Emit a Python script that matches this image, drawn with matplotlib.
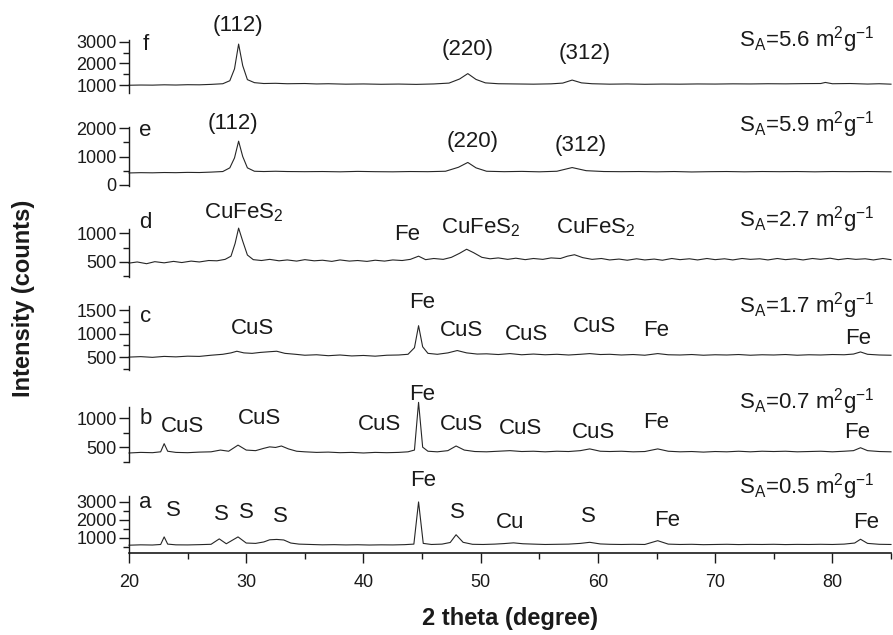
import matplotlib
matplotlib.use("Agg")
import matplotlib.pyplot as plt
import matplotlib.transforms as mtransforms
from matplotlib.ticker import FixedLocator

plt.rcParams['font.family'] = ['Liberation Sans', 'DejaVu Sans']
plt.rcParams['mathtext.fontset'] = 'custom'
plt.rcParams['mathtext.rm'] = 'Liberation Sans'
plt.rcParams['mathtext.it'] = 'Liberation Sans'

# ---------------- data ----------------
tt_f = [20, 21, 22, 23, 24, 25, 26, 27, 28, 28.6, 29.0, 29.35, 29.7, 30.1, 30.7, 31.5, 32.5, 33.5, 35, 36, 37, 38.5,
        40, 41.5, 43, 44.5, 46, 47.3, 48.2, 48.9, 49.6, 50.4, 51.5, 53, 54.5, 56, 57.0, 57.8, 58.6, 59.5, 61, 62.5,
        64, 65.5, 67, 68.5, 70, 71.5, 73, 74.5, 76, 77.5, 79.0, 79.4, 80, 81.5, 83, 84, 85]
I_f = [990, 1000, 995, 1010, 1000, 1015, 1010, 1030, 1060, 1200, 1750, 2900, 1900, 1250, 1110, 1070, 1080, 1060, 1070, 1050, 1060, 1040,
       1050, 1035, 1045, 1030, 1050, 1090, 1280, 1530, 1260, 1100, 1060, 1050, 1040, 1055, 1090, 1230, 1100, 1060, 1040, 1050,
       1035, 1045, 1040, 1050, 1045, 1055, 1050, 1060, 1055, 1065, 1070, 1120, 1060, 1070, 1045, 1060, 1040]

tt_e = [20, 21, 22, 23, 24, 25, 26, 27, 28, 28.6, 29.0, 29.35, 29.7, 30.1, 30.7, 31.5, 32.5, 33.5, 35, 36.5, 38, 39.5,
        41, 42.5, 44, 45.5, 47.0, 48.1, 48.9, 49.6, 50.5, 52, 53.5, 55, 56.5, 57.8, 59.0, 60.5, 62, 63.5, 65, 66.5,
        68, 69.5, 71, 72.5, 74, 75.5, 77, 78.5, 80, 81.5, 83, 85]
I_e = [420, 430, 425, 435, 430, 440, 435, 450, 470, 600, 950, 1540, 1000, 600, 480, 470, 480, 470, 465, 470, 460, 475,
       465, 460, 470, 465, 480, 620, 790, 600, 480, 465, 475, 460, 480, 610, 500, 470, 465, 470, 460, 470,
       455, 465, 470, 460, 470, 465, 470, 460, 470, 465, 470, 460]

tt_d = [20, 20.7, 21.5, 22.2, 23, 23.8, 24.5, 25.3, 26, 26.8, 27.5, 28.2, 28.7, 29.05, 29.35, 29.7, 30.1, 30.6, 31.3, 32, 32.8,
        33.5, 34.3, 35, 35.8, 36.5, 37.3, 38, 38.8, 39.5, 40.3, 41, 41.8, 42.5, 43.3, 44.0, 44.7, 45.3, 46, 46.8, 47.5,
        48.2, 48.8, 49.4, 50.1, 50.8, 51.5, 52.3, 53, 53.8, 54.5, 55.3, 56, 56.8, 57.4, 58.0, 58.7, 59.5, 60.3, 61,
        61.8, 62.5, 63.3, 64, 64.8, 65.5, 66.3, 67, 67.8, 68.5, 69.3, 70, 70.8, 71.5, 72.3, 73, 73.8, 74.5, 75.3,
        76, 76.8, 77.5, 78.3, 79, 79.8, 80.5, 81.3, 82, 82.8, 83.5, 84.3, 85]
I_d = [480, 500, 470, 505, 485, 510, 490, 515, 500, 525, 520, 545, 600, 820, 1085, 860, 620, 540, 525, 545, 520,
       535, 515, 540, 520, 530, 510, 535, 515, 525, 510, 530, 515, 535, 525, 545, 600, 540, 560, 545, 580,
       650, 720, 660, 580, 555, 570, 545, 565, 540, 560, 545, 570, 560, 600, 625, 575, 545, 560, 535,
       550, 530, 555, 535, 550, 530, 560, 540, 555, 535, 560, 540, 555, 535, 560, 545, 555, 535, 560,
       540, 555, 535, 560, 545, 565, 540, 560, 545, 555, 535, 560, 540]

tt_c = [20, 21, 22, 23, 24, 25, 26, 27, 28, 28.7, 29.2, 29.8, 30.5, 31.2, 32.0, 32.6, 33.3, 34.2, 35, 36, 37, 38,
        39, 40, 41, 42, 43, 43.8, 44.35, 44.7, 45.05, 45.5, 46.3, 47.2, 48.0, 48.8, 49.7, 50.5, 51.5, 52.5, 53.5,
        54.5, 55.5, 56.5, 57.5, 58.5, 59.3, 60.2, 61, 62, 63, 64, 65.1, 66, 67, 68, 69, 70, 71, 72, 73, 74,
        75, 76, 77, 78, 79, 80, 81, 81.8, 82.4, 83, 84, 85]
I_c = [500, 510, 495, 515, 505, 520, 515, 540, 560, 590, 625, 590, 580, 600, 615, 625, 580, 560, 540, 550, 530, 545,
       525, 535, 520, 540, 545, 560, 700, 1170, 720, 580, 560, 590, 640, 590, 565, 570, 555, 575, 550,
       565, 550, 560, 545, 560, 575, 555, 560, 545, 555, 540, 575, 550, 545, 555, 540, 550, 545, 555, 540, 550,
       545, 555, 540, 550, 545, 555, 550, 565, 610, 560, 545, 540]

tt_b = [20, 21, 22, 22.7, 23.0, 23.3, 24, 25, 26, 27, 27.8, 28.5, 29.3, 30.0, 30.8, 31.5, 32.0, 32.5, 33.0, 33.6, 34.3, 35,
        36, 37, 38, 39, 40, 41, 42, 43, 43.8, 44.35, 44.7, 45.05, 45.5, 46.3, 47.2, 47.9, 48.6, 49.5, 50.5, 51.5,
        52.5, 53.5, 54.5, 55.5, 56.5, 57.5, 58.5, 59.3, 60.2, 61, 62, 63, 64, 65.1, 66, 67, 68, 69, 70, 71, 72,
        73, 74, 75, 76, 77, 78, 79, 80, 81, 81.8, 82.4, 83, 84, 85]
I_b = [400, 410, 405, 420, 560, 430, 410, 405, 415, 420, 450, 430, 535, 450, 440, 480, 505, 495, 520, 470, 430, 420,
       410, 415, 405, 410, 400, 410, 405, 410, 420, 450, 1270, 500, 430, 420, 440, 520, 450, 425, 420, 430,
       440, 425, 430, 420, 430, 425, 440, 470, 430, 425, 430, 420, 425, 470, 430, 420, 425, 415, 425, 420, 430,
       420, 430, 425, 430, 420, 425, 430, 420, 430, 440, 490, 440, 425, 420]

tt_a = [20, 21, 22, 22.7, 23.0, 23.3, 24, 25, 26, 27, 27.7, 28.3, 29.3, 30.0, 30.8, 31.5, 32.0, 32.6, 33.2, 33.8, 34.5, 35.5,
        36.5, 37.5, 38.5, 39.5, 40.5, 41.5, 42.5, 43.5, 44.3, 44.7, 45.1, 45.8, 46.7, 47.4, 47.9, 48.5, 49.3, 50.2, 51.2,
        52.0, 52.8, 53.6, 54.5, 55.5, 56.5, 57.5, 58.5, 59.3, 60.2, 61, 62, 63, 64, 65.1, 66, 67, 68, 69, 70, 71,
        72, 73, 74, 75, 76, 77, 78, 79, 80, 81, 81.9, 82.4, 83, 84, 85]
I_a = [600, 620, 610, 640, 1060, 660, 620, 615, 630, 650, 950, 680, 1060, 720, 700, 780, 900, 920, 890, 720, 660, 640,
       620, 630, 615, 625, 610, 620, 615, 630, 660, 3000, 700, 640, 660, 750, 1180, 760, 650, 640, 660,
       690, 730, 680, 660, 640, 650, 660, 700, 760, 670, 650, 640, 650, 640, 850, 660, 640, 650, 630, 640, 650,
       635, 645, 640, 650, 635, 645, 640, 650, 640, 660, 720, 930, 700, 650, 640]

panel_letters = ['f', 'e', 'd', 'c', 'b', 'a']
surface_area = ['5.6', '5.9', '2.7', '1.7', '0.7', '0.5']
series_tt = [tt_f, tt_e, tt_d, tt_c, tt_b, tt_a]
series_I = [I_f, I_e, I_d, I_c, I_b, I_a]
major_ticks = [[1000, 2000, 3000], [0, 1000, 2000], [500, 1000], [500, 1000, 1500], [500, 1000], [1000, 2000, 3000]]
minor_ticks = [[1500, 2500], [500, 1500], [250, 750], [250, 750, 1250], [250, 750], [500, 1500, 2500]]
y_limits = [(630, 3090), (-40, 2040), (240, 1070), (225, 1590), (245, 1190), (167, 3330)]

# peak labels: (panel index, text, 2theta position, y pixel)
peak_labels = [
    (0, '(112)', 29.3, 25), (0, '(220)', 48.9, 50), (0, '(312)', 58.9, 53),
    (1, '(112)', 28.9, 123), (1, '(220)', 49.3, 141), (1, '(312)', 58.5, 145),
    (2, 'CuFeS$_\\mathrm{2}$', 29.8, 213), (2, 'Fe', 43.7, 235), (2, 'CuFeS$_\\mathrm{2}$', 50.0, 228),
    (2, 'CuFeS$_\\mathrm{2}$', 59.8, 228),
    (3, 'CuS', 30.5, 329), (3, 'Fe', 45.0, 303), (3, 'CuS', 48.4, 330), (3, 'CuS', 53.9, 334),
    (3, 'CuS', 59.7, 327), (3, 'Fe', 65.0, 331), (3, 'Fe', 82.2, 339),
    (4, 'CuS', 24.6, 426), (4, 'CuS', 31.1, 418), (4, 'CuS', 41.4, 424), (4, 'Fe', 45.0, 394),
    (4, 'CuS', 48.4, 425), (4, 'CuS', 53.4, 429), (4, 'CuS', 59.6, 432), (4, 'Fe', 65.0, 422), (4, 'Fe', 82.1, 432),
    (5, 'S', 23.8, 510), (5, 'S', 27.9, 515), (5, 'S', 30.0, 512), (5, 'S', 32.9, 516), (5, 'Fe', 45.1, 480),
    (5, 'S', 48.0, 512), (5, 'Cu', 52.5, 523), (5, 'S', 59.2, 517), (5, 'Fe', 65.9, 520), (5, 'Fe', 82.9, 522),
]

# ---------------- layout ----------------
W, H = 893, 635
fig = plt.figure(figsize=(W / 100, H / 100), dpi=100)
left_px, right_px = 129, 891
panel_px = [(40, 93), (127, 186), (229, 277), (306, 370), (407, 462), (496, 553)]
letter_y = [45, 131, 223, 316, 418, 502]
sa_y = [40, 125, 220, 306, 402, 487]

col = '#1a1a1a'
axes = []
for i, (top, bot) in enumerate(panel_px):
    ax = fig.add_axes([left_px / W, 1 - bot / H, (right_px - left_px) / W, (bot - top) / H])
    ax.set_facecolor('none')
    ax.plot(series_tt[i], series_I[i], color='#262626', lw=0.8, clip_on=False)
    ax.set_xlim(20, 85)
    ax.set_ylim(*y_limits[i])
    for s in ['top', 'right']:
        ax.spines[s].set_visible(False)
    ax.spines['left'].set_color(col)
    ax.spines['left'].set_linewidth(1.0)
    ax.yaxis.set_major_locator(FixedLocator(major_ticks[i]))
    ax.yaxis.set_minor_locator(FixedLocator(minor_ticks[i]))
    ax.tick_params(axis='y', which='major', direction='out', length=7, width=1.0, labelsize=13,
                   colors=col, pad=2)
    ax.tick_params(axis='y', which='minor', direction='out', length=4, width=1.0, colors=col)
    if i < 5:
        ax.spines['bottom'].set_visible(False)
        ax.set_xticks([])
    else:
        ax.spines['bottom'].set_color(col)
        ax.spines['bottom'].set_linewidth(1.2)
        ax.set_xticks([20, 30, 40, 50, 60, 70, 80])
        ax.xaxis.set_minor_locator(FixedLocator([25, 35, 45, 55, 65, 75, 85]))
        ax.tick_params(axis='x', which='major', direction='out', length=7, width=1.0, labelsize=13,
                       colors=col, pad=8)
        ax.tick_params(axis='x', which='minor', direction='out', length=4, width=1.0, colors=col)
        ax.set_xlabel('2 theta (degree)', fontsize=17, fontweight='bold', labelpad=12, color=col)
    axes.append(ax)

    tr = mtransforms.blended_transform_factory(ax.transData, fig.transFigure)
    ax.text(21.4, 1 - letter_y[i] / H, panel_letters[i], transform=tr, fontsize=16,
            ha='center', va='center', color=col)
    ax.text(72.0, 1 - sa_y[i] / H,
            'S$_\\mathrm{A}$=' + surface_area[i] + ' m$^\\mathrm{2}$g$^\\mathrm{-1}$',
            transform=tr, fontsize=16, ha='left', va='center', color=col)

for (i, s, x, ypx) in peak_labels:
    ax = axes[i]
    tr = mtransforms.blended_transform_factory(ax.transData, fig.transFigure)
    ax.text(x, 1 - ypx / H, s, transform=tr, fontsize=16, ha='center', va='center', color=col)

fig.text(24 / W, 1 - 298 / H, 'Intensity (counts)', rotation=90, fontsize=17, fontweight='bold',
         ha='center', va='center', color=col)

fig.savefig('out.png', dpi=100)
